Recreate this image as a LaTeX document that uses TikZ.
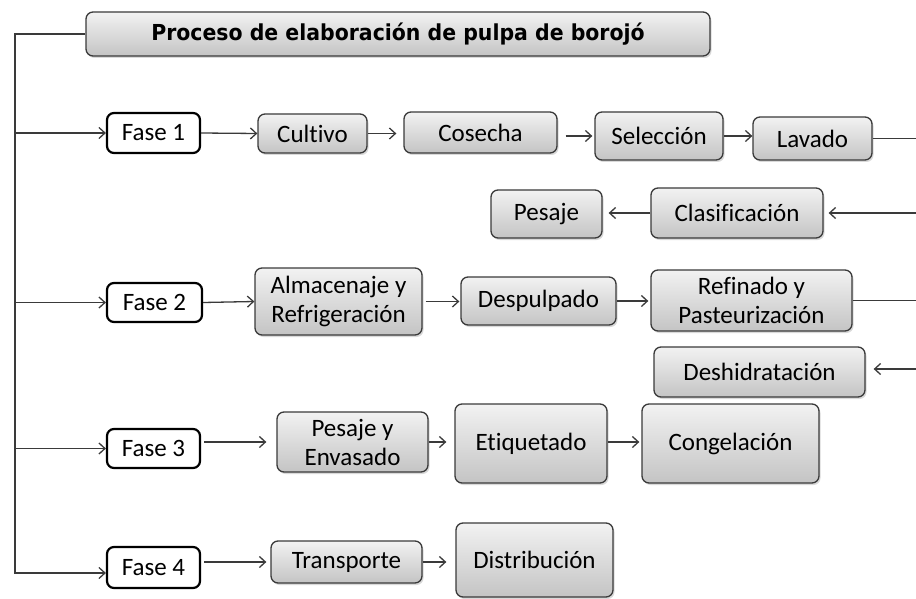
\documentclass[tikz,border=0pt]{standalone}
\usepackage{fontspec}
\setmainfont{Carlito}[RawFeature={-liga}]
\newfontfamily\titlefont{DejaVu Sans}
\usetikzlibrary{arrows.meta,shadows}
\definecolor{edge}{HTML}{3A3A3A}
\definecolor{topg}{HTML}{F2F2F2}
\definecolor{botg}{HTML}{C4C4C4}
\tikzset{
  base/.style={rounded corners=7pt, inner sep=0pt, align=center,
    font=\fontsize{25}{29}\selectfont},
  proc/.style={base, draw=edge, line width=1.3pt, top color=topg, bottom color=botg,
    drop shadow={shadow xshift=1.5pt, shadow yshift=-2pt, opacity=0.3, fill=gray}},
  fase/.style={base, draw=black, line width=2.2pt, fill=white},
  ttl/.style={proc, font=\titlefont\bfseries\fontsize{22}{26}\selectfont},
  arr/.style={draw=edge, line width=1.3pt, -{Straight Barb[length=6pt,width=11pt]}},
  ln/.style={draw=edge, line width=1.3pt},
}
\begin{document}
\begin{tikzpicture}[x=1pt,y=-1pt]
\useasboundingbox (0,0) rectangle (916,599);
% title
\node[ttl, minimum width=624, minimum height=44] (title) at (398,34) {\scalebox{0.93}[1]{Proceso de elaboración de pulpa de borojó}};
% fases
\node[fase, minimum width=93, minimum height=40] (f1) at (153.5,133) {Fase 1};
\node[fase, minimum width=95, minimum height=39] (f2) at (154.5,302.5) {Fase 2};
\node[fase, minimum width=93, minimum height=39] (f3) at (153.5,448.5) {Fase 3};
\node[fase, minimum width=93, minimum height=41] (f4) at (153.5,567.5) {Fase 4};
% row 1
\node[proc, minimum width=109, minimum height=39] (cult) at (312.5,133.5) {Cultivo};
\node[proc, minimum width=153, minimum height=41] (cose) at (480.5,132.5) {Cosecha};
\node[proc, minimum width=128, minimum height=48] (sele) at (659,136) {Selección};
\node[proc, minimum width=119, minimum height=43] (lava) at (812.5,138.5) {Lavado};
\node[proc, minimum width=172, minimum height=50] (clas) at (737,213) {Clasificación};
\node[proc, minimum width=111, minimum height=48] (pesa) at (546.5,214) {Pesaje};
% row 2
\node[proc, minimum width=167, minimum height=67] (alma) at (338.5,301.5) {Almacenaje y\\Refrigeración};
\node[proc, minimum width=155, minimum height=48] (desp) at (538.5,301) {Despulpado};
\node[proc, minimum width=201, minimum height=61] (refi) at (751.5,300.5) {Refinado y\\Pasteurización};
\node[proc, minimum width=211, minimum height=50] (desh) at (759.5,372) {Deshidratación};
% row 3
\node[proc, minimum width=151, minimum height=60] (penv) at (352.5,442) {Pesaje y\\Envasado};
\node[proc, minimum width=152, minimum height=79] (etiq) at (531,443.5) {Etiquetado};
\node[proc, minimum width=177, minimum height=79] (cong) at (730.5,443.5) {Congelación};
% row 4
\node[proc, minimum width=151, minimum height=42] (tran) at (346.5,562) {Transporte};
\node[proc, minimum width=157, minimum height=74] (dist) at (534.5,560) {Distribución};
% edge coordinates
\coordinate (sp) at (15,573);
\coordinate (e1) at (916,138.5);
\coordinate (e2) at (916,213);
\coordinate (e3) at (916,300.5);
\coordinate (e4) at (916,369);
% spine
\draw[arr] (title.west) -| (sp) -- (f4.west |- sp);
\draw[arr] (sp |- f1.west) -- (f1.west);
\draw[arr] (sp |- f2.west) -- (f2.west);
\draw[arr] (sp |- f3.west) -- (f3.west);
% row 1
\draw[arr] (f1.east) -- (cult.west);
\draw[arr, shorten >=7pt] (cult.east) -- (cult.east -| cose.west);
\draw[arr, shorten <=8pt, shorten >=2pt] (cose.east |- sele.west) -- (sele.west);
\draw[arr] (sele.east |- sele.west) -- (sele.east -| lava.west);
\draw[ln] (lava.east) -- (e1);
\draw[arr, shorten >=5pt] (e2) -- (clas.east);
\draw[arr, shorten >=6pt] (clas.west) -- (pesa.east |- clas.west);
% row 2
\draw[arr] (f2.east) -- (alma.west);
\draw[arr, shorten <=3pt, shorten >=1pt] (alma.east) -- (alma.east -| desp.west);
\draw[arr, shorten >=2pt] (desp.east) -- (desp.east -| refi.west);
\draw[ln] (refi.east) -- (e3);
\draw[arr, shorten >=8pt] (e4) -- (desh.east |- e4);
% row 3
\draw[arr, shorten <=3pt, shorten >=10pt] (f3.east |- penv.west) -- (penv.west);
\draw[arr, shorten >=8pt] (penv.east) -- (penv.east -| etiq.west);
\draw[arr, shorten >=2pt] (etiq.east |- penv.east) -- (cong.west |- penv.east);
% row 4
\draw[arr, shorten <=3pt, shorten >=4pt] (f4.east |- tran.west) -- (tran.west);
\draw[arr, shorten >=9pt] (tran.east) -- (tran.east -| dist.west);
\end{tikzpicture}
\end{document}
